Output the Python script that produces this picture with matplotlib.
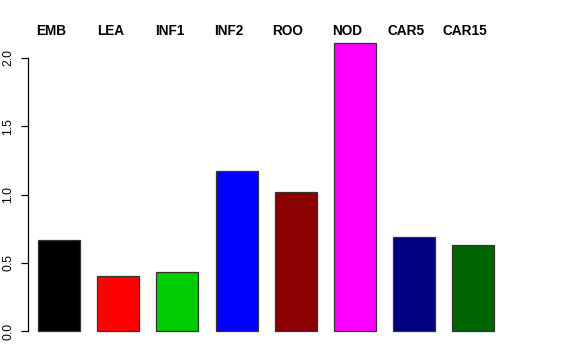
import matplotlib
matplotlib.use("Agg")
import matplotlib.pyplot as plt

plt.rcParams['font.family'] = ['Liberation Sans', 'DejaVu Sans']

# data
labels = ["EMB", "LEA", "INF1", "INF2", "ROO", "NOD", "CAR5", "CAR15"]
values = [0.667, 0.40, 0.436, 1.174, 1.02, 2.11, 0.689, 0.632]
colors = ["black", "red", "#00CD00", "blue", "#8B0000", "magenta", "#000080", "#006400"]
yticks = [0.0, 0.5, 1.0, 1.5, 2.0]

fig = plt.figure(figsize=(5.76, 3.6), dpi=100)
ax = fig.add_axes([28 / 576, (360 - 342.5) / 360, (504.5 - 28) / 576, 311 / 360])

x = list(range(len(values)))
ax.bar(x, values, width=0.71, color=colors, edgecolor="#333333", linewidth=0.9)

ax.set_xlim(-0.525, len(values) - 1 + 0.525)
ax.set_ylim(-0.084, 2.194)

for s in ["top", "right", "bottom"]:
    ax.spines[s].set_visible(False)
ax.spines["left"].set_bounds(0, 2.0)
ax.spines["left"].set_linewidth(0.9)

ax.set_xticks([])
ax.set_yticks(yticks)
ax.set_yticklabels([f"{t:.1f}" for t in yticks], rotation=90, va="center", fontsize=8.8)
ax.tick_params(axis="y", length=5.2, width=0.9, pad=4.5)

# group labels along the top
for i, lab in enumerate(labels):
    ax.text(i - 0.136, 1.0, lab, transform=ax.get_xaxis_transform(),
            ha="center", va="center", fontsize=9.8, fontweight="bold", clip_on=False)

fig.savefig("out.png", dpi=100)
